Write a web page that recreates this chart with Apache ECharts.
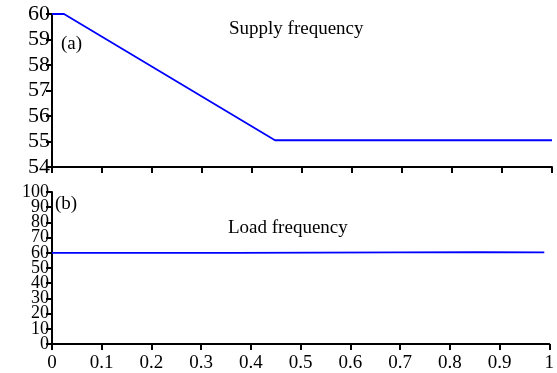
<!DOCTYPE html>
<html>
<head>
<meta charset="utf-8">
<script src="https://cdn.jsdelivr.net/npm/echarts@6/dist/echarts.min.js"></script>
<style>
  html, body { margin: 0; padding: 0; background: #fff; }
  #chart { width: 557px; height: 373px; }
</style>
</head>
<body>
<div id="chart"></div>
<script>
// 供电频率 (a)
const supplyX = [0, 0.024, 0.446, 1];
const supplyY = [60, 60, 55.05, 55.05];

// 负载频率 (b)
const loadX = [0, 0.366, 0.366, 0.86, 0.86, 0.99];
const loadY = [60, 60, 60.5, 60.5, 60.3, 60.3];

const xTicks = [0, 0.1, 0.2, 0.3, 0.4, 0.5, 0.6, 0.7, 0.8, 0.9, 1];
// 下图 y 轴刻度太密，靠近两端的标签放到第二根轴上，避免被自动隐藏
const loadInnerTicks = [10, 90];

const font = 'Liberation Serif';
const chart = echarts.init(document.getElementById('chart'));

const axisLine = { lineStyle: { color: '#000', width: 2 } };
const axisTick = { inside: false, length: 6, lineStyle: { color: '#000', width: 2 } };

function pairs(xs, ys) {
  return xs.map((x, i) => [x, ys[i]]);
}

const loadLabel = { color: '#000', fontFamily: font, fontSize: 18, margin: 3, lineHeight: 11 };

chart.setOption({
  animation: false,
  grid: [
    { left: 52, top: 14, width: 500, height: 153 },
    { left: 52, top: 192, width: 500, height: 153 }
  ],
  xAxis: [
    {
      type: 'value', gridIndex: 0, min: 0, max: 1, interval: 0.1,
      axisLine, axisTick, splitLine: { show: false },
      axisLabel: { show: false }
    },
    {
      type: 'value', gridIndex: 1, min: 0, max: 1, interval: 0.1,
      axisLine, axisTick, splitLine: { show: false },
      axisLabel: {
        color: '#000', fontFamily: font, fontSize: 19, margin: 10,
        showMinLabel: true, showMaxLabel: true,
        formatter: v => xTicks.includes(Math.round(v * 10) / 10) ? String(Math.round(v * 10) / 10) : ''
      }
    }
  ],
  yAxis: [
    {
      type: 'value', gridIndex: 0, min: 54, max: 60, interval: 1,
      axisLine, axisTick, splitLine: { show: false },
      axisLabel: {
        color: '#000', fontFamily: font, fontSize: 22, margin: 2,
        showMinLabel: true, showMaxLabel: true
      }
    },
    {
      type: 'value', gridIndex: 1, min: 0, max: 100, interval: 10,
      axisLine, axisTick, splitLine: { show: false },
      axisLabel: Object.assign({}, loadLabel, {
        showMinLabel: true, showMaxLabel: true,
        formatter: v => loadInnerTicks.includes(v) ? '' : String(v)
      })
    },
    {
      type: 'value', gridIndex: 1, min: 0, max: 100, interval: 10, position: 'left',
      axisLine: { show: false }, axisTick: { show: false }, splitLine: { show: false },
      axisLabel: Object.assign({}, loadLabel, {
        showMinLabel: false, showMaxLabel: false,
        formatter: v => loadInnerTicks.includes(v) ? String(v) : ''
      })
    }
  ],
  series: [
    {
      type: 'line', xAxisIndex: 0, yAxisIndex: 0, showSymbol: false,
      lineStyle: { color: '#0000ff', width: 1.8 },
      data: pairs(supplyX, supplyY)
    },
    {
      type: 'line', xAxisIndex: 1, yAxisIndex: 1, showSymbol: false,
      lineStyle: { color: '#0000ff', width: 1.8 },
      data: pairs(loadX, loadY)
    }
  ],
  graphic: [
    { type: 'text', left: 229, top: 20, style: { text: 'Supply frequency', font: '19px "Liberation Serif"', fill: '#000' } },
    { type: 'text', left: 61, top: 35, style: { text: '(a)', font: '19px "Liberation Serif"', fill: '#000' } },
    { type: 'text', left: 228, top: 219, style: { text: 'Load frequency', font: '19px "Liberation Serif"', fill: '#000' } },
    { type: 'text', left: 55, top: 195, style: { text: '(b)', font: '19px "Liberation Serif"', fill: '#000' } }
  ]
});
</script>
</body>
</html>
